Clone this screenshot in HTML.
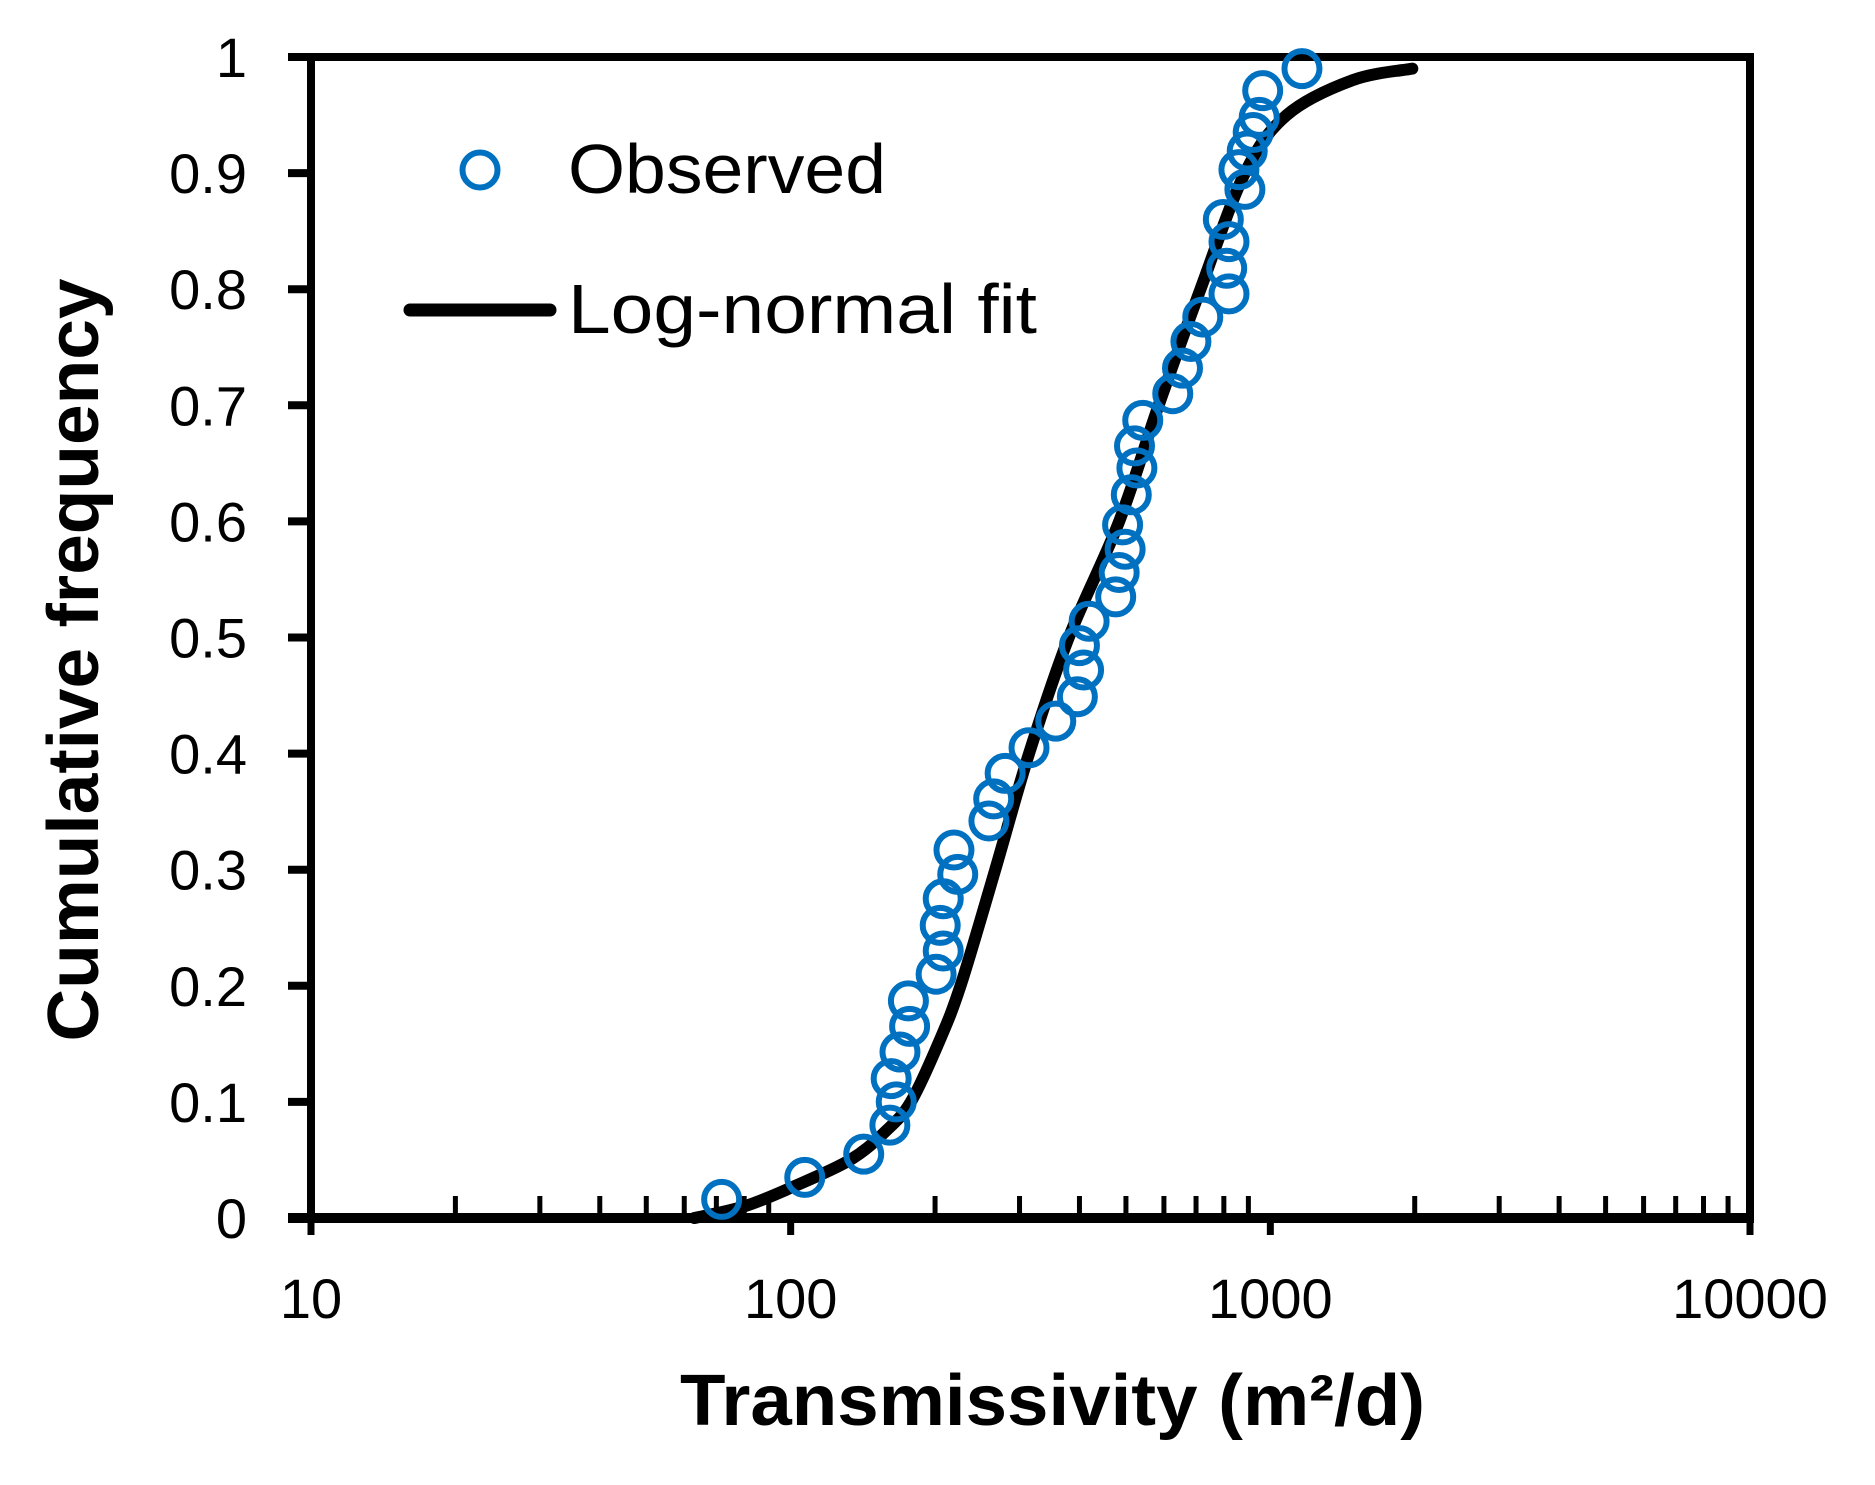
<!DOCTYPE html>
<html><head><meta charset="utf-8"><style>
html,body{margin:0;padding:0;background:#fff;}
svg{display:block;font-family:"Liberation Sans",sans-serif;}
</style></head><body>
<svg id="chart" width="1875" height="1485" viewBox="0 0 1875 1485" xmlns="http://www.w3.org/2000/svg">
<g id="axes"></g>
<g id="curve"></g>
<g id="pts"></g>
<g id="legend">
  <circle cx="480" cy="170" r="17.5" fill="none" stroke="#0070C0" stroke-width="6"/>
  <text x="568" y="193" font-size="70" textLength="318" lengthAdjust="spacingAndGlyphs">Observed</text>
  <line x1="410" y1="310" x2="550" y2="310" stroke="#000" stroke-width="13" stroke-linecap="round"/>
  <text x="568" y="333" font-size="70" textLength="469" lengthAdjust="spacingAndGlyphs">Log-normal fit</text>
</g>
<text x="680" y="1425" font-size="72" font-weight="bold" textLength="745" lengthAdjust="spacingAndGlyphs">Transmissivity (m²/d)</text>
<text transform="translate(98,660) rotate(-90)" text-anchor="middle" font-size="72" font-weight="bold" textLength="763" lengthAdjust="spacingAndGlyphs">Cumulative frequency</text>
</svg>
<script>
const xTickValues=[10,100,1000,10000];
const xTickLabels=["10","100","1000","10000"];
const yTickValues=[0,0.1,0.2,0.3,0.4,0.5,0.6,0.7,0.8,0.9,1];
const yTickLabels=["0","0.1","0.2","0.3","0.4","0.5","0.6","0.7","0.8","0.9","1"];
const obsT=[71.8,107,142,161,166,162,169,177,176,201,208,205,208,223,219,259,265,280,314,357,396,408,400,419,476,484,498,492,513,527,521,542,626,656,683,723,820,811,820,798,885,860,895,921,948,964,1164];
const obsF=[0.016,0.035,0.055,0.08,0.1,0.12,0.143,0.165,0.187,0.21,0.23,0.252,0.275,0.296,0.317,0.342,0.361,0.383,0.405,0.428,0.449,0.472,0.493,0.514,0.535,0.556,0.576,0.597,0.623,0.646,0.665,0.687,0.71,0.732,0.755,0.776,0.796,0.818,0.841,0.86,0.886,0.903,0.919,0.935,0.948,0.971,0.99];
const fitT=[63,80,100,133,158,178,203,226,267,314,380,484,585,715,885,1082,1483,1977];
const fitF=[0,0.010,0.026,0.05,0.075,0.1,0.15,0.2,0.3,0.4,0.5,0.6,0.7,0.8,0.9,0.95,0.98,0.99];

const X0=311,X1=1750,Y0=1218,Y1=57;
const xS=v=>X0+(Math.log10(v)-1)/3*(X1-X0);
const yS=v=>Y0-v*(Y0-Y1);
const NS="http://www.w3.org/2000/svg";
function mk(tag,parent,attrs){const e=document.createElementNS(NS,tag);for(const k in attrs)e.setAttribute(k,attrs[k]);parent.appendChild(e);return e;}
const ax=document.getElementById('axes');
const fr=mk('rect',ax,{x:X0,y:Y1,width:X1-X0,height:Y0-Y1,fill:'none',stroke:'#000','stroke-width':8});


yTickValues.forEach((v,i)=>{
  const t=mk('line',ax,{x1:288,x2:X0,y1:yS(v),y2:yS(v),stroke:'#000','stroke-width':8});
  
  
  const l=mk('text',ax,{x:247,y:yS(v)+20,'text-anchor':'end','font-size':56});
  
  
  l.textContent=yTickLabels[i];
});
xTickValues.forEach((v,i)=>{
  const t=mk('line',ax,{x1:xS(v),x2:xS(v),y1:Y0,y2:1235,stroke:'#000','stroke-width':7});
  
  
  const l=mk('text',ax,{x:xS(v),y:1318,'text-anchor':'middle','font-size':56});
  
  
  l.textContent=xTickLabels[i];
  if(i<xTickValues.length-1){
    for(let m=2;m<=9;m++){
      const mt=mk('line',ax,{x1:xS(v*m),x2:xS(v*m),y1:1196,y2:Y0,stroke:'#000','stroke-width':5});
      
      
    }
  }
});
const bl=mk('line',ax,{x1:288,x2:X1+4,y1:Y0,y2:Y0,stroke:'#000','stroke-width':10});


const P=fitT.map((t,i)=>[xS(t),yS(fitF[i])]);
let d=`M${P[0][0]},${P[0][1]}`;
for(let i=0;i<P.length-1;i++){
  const p0=P[Math.max(0,i-1)],p1=P[i],p2=P[i+1],p3=P[Math.min(P.length-1,i+2)];
  const c1=[p1[0]+(p2[0]-p0[0])/6,p1[1]+(p2[1]-p0[1])/6];
  const c2=[p2[0]-(p3[0]-p1[0])/6,p2[1]-(p3[1]-p1[1])/6];
  d+=` C${c1[0]},${c1[1]} ${c2[0]},${c2[1]} ${p2[0]},${p2[1]}`;
}
const cv=mk('path',document.getElementById('curve'),{d:d,fill:'none',stroke:'#000','stroke-width':12,'stroke-linecap':'round'});


const pg=document.getElementById('pts');
obsT.forEach((t,i)=>{
  const c=mk('circle',pg,{cx:xS(t),cy:yS(obsF[i]),r:17.5,fill:'none',stroke:'#0070C0','stroke-width':6});
  
  
});
</script>
</body></html>
